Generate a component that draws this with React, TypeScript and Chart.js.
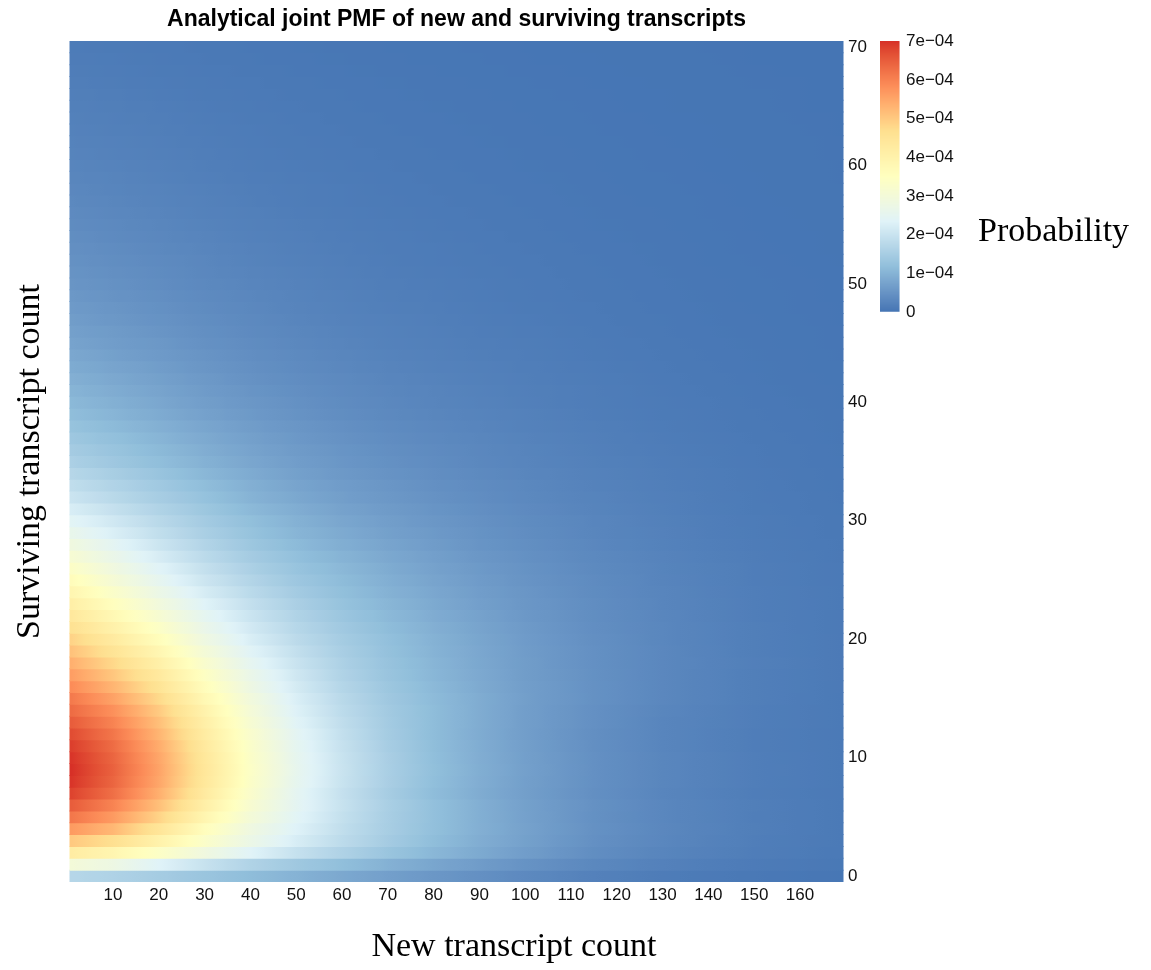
import React, { useEffect, useRef } from 'react';
import { Chart, registerables } from 'chart.js';

Chart.register(...registerables);

// ---------- data (probabilities in units of 1e-4) ----------
const newCounts = [1, 10, 20, 30, 40, 50, 60, 70, 80, 90, 100, 115, 130, 150, 169];

const survivingCounts = [
  0, 1, 2, 3, 4, 5, 6, 7, 8, 9, 10, 11, 12, 13, 14, 15, 16, 17, 18, 19, 20,
  21, 22, 23, 24, 25, 26, 27, 28, 29, 30, 31, 32, 33, 34, 35, 36, 37, 38, 39, 40,
  41, 42, 43, 44, 45, 46, 47, 48, 49, 50, 51, 52, 53, 54, 55, 56, 57, 58, 59, 60,
  61, 62, 63, 64, 65, 66, 67, 68, 69, 70,
];

// one row per surviving count, values aligned with newCounts
const pmfRows = [
  [1.70, 1.60, 1.46, 1.30, 1.14, 0.98, 0.82, 0.68, 0.55, 0.44, 0.33, 0.20, 0.12, 0.06, 0.03],
  [3.00, 2.76, 2.34, 1.95, 1.62, 1.38, 1.17, 0.96, 0.78, 0.63, 0.48, 0.31, 0.20, 0.105, 0.058],
  [4.20, 3.86, 3.36, 2.86, 2.35, 1.93, 1.60, 1.30, 1.05, 0.84, 0.65, 0.40, 0.26, 0.14, 0.075],
  [5.00, 4.65, 4.00, 3.30, 2.70, 2.20, 1.80, 1.45, 1.15, 0.90, 0.70, 0.44, 0.29, 0.15, 0.08],
  [5.65, 5.25, 4.46, 3.56, 2.83, 2.32, 1.86, 1.50, 1.19, 0.93, 0.72, 0.46, 0.30, 0.16, 0.085],
  [6.15, 5.66, 4.86, 3.87, 3.01, 2.40, 1.91, 1.51, 1.20, 0.92, 0.71, 0.45, 0.29, 0.155, 0.085],
  [6.50, 5.98, 5.14, 4.10, 3.15, 2.47, 1.95, 1.53, 1.20, 0.92, 0.70, 0.46, 0.29, 0.16, 0.085],
  [6.80, 6.26, 5.37, 4.28, 3.26, 2.48, 1.92, 1.48, 1.14, 0.88, 0.67, 0.43, 0.27, 0.14, 0.08],
  [6.95, 6.39, 5.49, 4.38, 3.34, 2.54, 1.97, 1.52, 1.17, 0.90, 0.68, 0.44, 0.28, 0.15, 0.083],
  [7.00, 6.44, 5.53, 4.41, 3.36, 2.56, 1.98, 1.53, 1.18, 0.91, 0.69, 0.44, 0.28, 0.15, 0.084],
  [6.95, 6.39, 5.49, 4.38, 3.34, 2.54, 1.97, 1.52, 1.17, 0.90, 0.68, 0.44, 0.28, 0.15, 0.083],
  [6.85, 6.30, 5.41, 4.32, 3.29, 2.50, 1.94, 1.49, 1.15, 0.89, 0.67, 0.43, 0.27, 0.14, 0.082],
  [6.70, 6.16, 5.29, 4.22, 3.22, 2.45, 1.90, 1.46, 1.13, 0.87, 0.66, 0.42, 0.27, 0.14, 0.08],
  [6.50, 5.98, 5.14, 4.10, 3.12, 2.37, 1.85, 1.44, 1.13, 0.88, 0.66, 0.44, 0.27, 0.15, 0.08],
  [6.30, 5.80, 4.98, 3.97, 3.02, 2.30, 1.80, 1.42, 1.13, 0.88, 0.66, 0.44, 0.28, 0.15, 0.08],
  [6.10, 5.55, 4.76, 3.78, 2.92, 2.24, 1.75, 1.38, 1.11, 0.88, 0.67, 0.46, 0.30, 0.16, 0.085],
  [5.85, 5.29, 4.53, 3.60, 2.78, 2.15, 1.68, 1.34, 1.08, 0.85, 0.66, 0.46, 0.30, 0.16, 0.088],
  [5.60, 5.04, 4.31, 3.42, 2.66, 2.07, 1.62, 1.29, 1.04, 0.83, 0.64, 0.45, 0.30, 0.16, 0.09],
  [5.35, 4.78, 4.07, 3.21, 2.51, 1.98, 1.57, 1.26, 1.02, 0.81, 0.64, 0.44, 0.30, 0.17, 0.09],
  [5.10, 4.52, 3.83, 3.01, 2.37, 1.89, 1.51, 1.22, 0.99, 0.80, 0.63, 0.44, 0.30, 0.16, 0.09],
  [4.85, 4.27, 3.59, 2.81, 2.23, 1.79, 1.46, 1.19, 0.97, 0.78, 0.62, 0.43, 0.29, 0.16, 0.09],
  [4.60, 4.02, 3.36, 2.65, 2.12, 1.71, 1.39, 1.14, 0.93, 0.75, 0.60, 0.41, 0.29, 0.16, 0.087],
  [4.35, 3.77, 3.13, 2.49, 2.00, 1.62, 1.32, 1.08, 0.88, 0.72, 0.57, 0.40, 0.28, 0.15, 0.087],
  [4.10, 3.53, 2.91, 2.34, 1.89, 1.54, 1.25, 1.03, 0.84, 0.68, 0.55, 0.39, 0.27, 0.15, 0.082],
  [3.85, 3.29, 2.71, 2.18, 1.77, 1.44, 1.18, 0.97, 0.80, 0.65, 0.53, 0.37, 0.26, 0.15, 0.08],
  [3.60, 3.06, 2.52, 2.03, 1.66, 1.35, 1.12, 0.92, 0.76, 0.62, 0.50, 0.36, 0.25, 0.14, 0.08],
  [3.35, 2.86, 2.36, 1.91, 1.55, 1.27, 1.06, 0.87, 0.72, 0.59, 0.48, 0.34, 0.24, 0.14, 0.077],
  [3.10, 2.66, 2.19, 1.78, 1.45, 1.19, 0.99, 0.82, 0.68, 0.55, 0.45, 0.32, 0.23, 0.13, 0.074],
  [2.85, 2.45, 2.02, 1.65, 1.34, 1.10, 0.91, 0.76, 0.63, 0.51, 0.42, 0.30, 0.21, 0.12, 0.068],
  [2.60, 2.25, 1.87, 1.53, 1.25, 1.02, 0.85, 0.70, 0.59, 0.48, 0.39, 0.28, 0.20, 0.11, 0.065],
  [2.40, 2.09, 1.75, 1.44, 1.18, 0.96, 0.79, 0.66, 0.55, 0.46, 0.37, 0.27, 0.19, 0.11, 0.062],
  [2.20, 1.92, 1.62, 1.34, 1.08, 0.89, 0.73, 0.61, 0.51, 0.42, 0.35, 0.25, 0.18, 0.10, 0.059],
  [2.00, 1.75, 1.49, 1.23, 0.99, 0.81, 0.67, 0.56, 0.47, 0.39, 0.32, 0.24, 0.17, 0.096, 0.054],
  [1.85, 1.63, 1.39, 1.15, 0.93, 0.76, 0.63, 0.53, 0.44, 0.37, 0.31, 0.22, 0.16, 0.093, 0.052],
  [1.70, 1.50, 1.28, 1.05, 0.86, 0.70, 0.58, 0.49, 0.41, 0.34, 0.28, 0.21, 0.15, 0.087, 0.049],
  [1.55, 1.36, 1.16, 0.96, 0.79, 0.65, 0.54, 0.45, 0.38, 0.31, 0.26, 0.19, 0.14, 0.079, 0.045],
  [1.45, 1.28, 1.09, 0.90, 0.74, 0.61, 0.51, 0.42, 0.36, 0.30, 0.25, 0.18, 0.13, 0.075, 0.044],
  [1.35, 1.19, 1.01, 0.84, 0.69, 0.57, 0.47, 0.39, 0.33, 0.28, 0.23, 0.17, 0.12, 0.070, 0.041],
  [1.25, 1.10, 0.94, 0.78, 0.64, 0.53, 0.44, 0.36, 0.31, 0.26, 0.21, 0.16, 0.11, 0.065, 0.038],
  [1.15, 1.01, 0.86, 0.71, 0.59, 0.48, 0.40, 0.33, 0.28, 0.24, 0.20, 0.14, 0.10, 0.060, 0.035],
  [1.07, 0.94, 0.80, 0.66, 0.55, 0.45, 0.37, 0.31, 0.26, 0.22, 0.18, 0.13, 0.096, 0.056, 0.032],
  [1.00, 0.88, 0.75, 0.62, 0.51, 0.42, 0.35, 0.29, 0.25, 0.21, 0.17, 0.13, 0.09, 0.052, 0.030],
  [0.93, 0.82, 0.70, 0.58, 0.47, 0.39, 0.33, 0.27, 0.23, 0.19, 0.16, 0.12, 0.084, 0.048, 0.028],
  [0.86, 0.76, 0.65, 0.53, 0.44, 0.36, 0.30, 0.25, 0.21, 0.18, 0.15, 0.11, 0.077, 0.045, 0.026],
  [0.80, 0.70, 0.60, 0.50, 0.41, 0.34, 0.28, 0.23, 0.20, 0.16, 0.14, 0.10, 0.072, 0.042, 0.024],
  [0.74, 0.65, 0.56, 0.46, 0.38, 0.31, 0.26, 0.21, 0.18, 0.15, 0.13, 0.093, 0.067, 0.038, 0.022],
  [0.69, 0.61, 0.52, 0.43, 0.35, 0.29, 0.24, 0.20, 0.17, 0.14, 0.12, 0.086, 0.062, 0.036, 0.021],
  [0.64, 0.56, 0.48, 0.40, 0.33, 0.27, 0.22, 0.19, 0.16, 0.13, 0.11, 0.080, 0.058, 0.033, 0.019],
  [0.60, 0.53, 0.45, 0.37, 0.31, 0.25, 0.21, 0.17, 0.15, 0.12, 0.10, 0.075, 0.054, 0.031, 0.018],
  [0.56, 0.49, 0.42, 0.35, 0.29, 0.24, 0.20, 0.16, 0.14, 0.11, 0.095, 0.070, 0.050, 0.029, 0.017],
  [0.52, 0.46, 0.39, 0.32, 0.27, 0.22, 0.18, 0.15, 0.13, 0.11, 0.088, 0.065, 0.047, 0.027, 0.016],
  [0.49, 0.43, 0.37, 0.30, 0.25, 0.21, 0.17, 0.14, 0.12, 0.10, 0.083, 0.061, 0.044, 0.025, 0.015],
  [0.46, 0.40, 0.35, 0.29, 0.23, 0.19, 0.16, 0.13, 0.11, 0.094, 0.078, 0.058, 0.041, 0.024, 0.014],
  [0.43, 0.38, 0.32, 0.27, 0.22, 0.18, 0.15, 0.12, 0.11, 0.088, 0.073, 0.054, 0.039, 0.022, 0.013],
  [0.40, 0.35, 0.30, 0.25, 0.20, 0.17, 0.14, 0.12, 0.098, 0.082, 0.068, 0.050, 0.036, 0.021, 0.012],
  [0.37, 0.33, 0.28, 0.23, 0.19, 0.16, 0.13, 0.11, 0.091, 0.076, 0.063, 0.046, 0.033, 0.019, 0.011],
  [0.345, 0.30, 0.26, 0.21, 0.18, 0.14, 0.12, 0.10, 0.085, 0.071, 0.059, 0.043, 0.031, 0.018, 0.010],
  [0.32, 0.28, 0.24, 0.20, 0.16, 0.13, 0.11, 0.093, 0.078, 0.066, 0.054, 0.040, 0.029, 0.017, 0.010],
  [0.30, 0.26, 0.23, 0.19, 0.15, 0.13, 0.11, 0.087, 0.074, 0.062, 0.051, 0.038, 0.027, 0.016, 0.009],
  [0.28, 0.25, 0.21, 0.17, 0.14, 0.12, 0.098, 0.081, 0.069, 0.057, 0.048, 0.035, 0.025, 0.015, 0.008],
  [0.26, 0.23, 0.20, 0.16, 0.13, 0.11, 0.091, 0.075, 0.064, 0.053, 0.044, 0.033, 0.023, 0.014, 0.008],
  [0.24, 0.21, 0.18, 0.15, 0.12, 0.10, 0.084, 0.070, 0.059, 0.049, 0.041, 0.030, 0.022, 0.012, 0.007],
  [0.225, 0.20, 0.17, 0.14, 0.11, 0.095, 0.079, 0.065, 0.055, 0.046, 0.038, 0.028, 0.020, 0.012, 0.007],
  [0.21, 0.18, 0.16, 0.13, 0.11, 0.088, 0.074, 0.061, 0.051, 0.043, 0.036, 0.026, 0.019, 0.011, 0.006],
  [0.195, 0.17, 0.15, 0.12, 0.10, 0.082, 0.068, 0.057, 0.048, 0.040, 0.033, 0.024, 0.018, 0.010, 0.006],
  [0.18, 0.16, 0.14, 0.11, 0.092, 0.076, 0.063, 0.052, 0.044, 0.037, 0.031, 0.023, 0.016, 0.009, 0.005],
  [0.165, 0.15, 0.12, 0.10, 0.084, 0.069, 0.058, 0.048, 0.040, 0.034, 0.028, 0.021, 0.015, 0.009, 0.005],
  [0.15, 0.13, 0.11, 0.093, 0.077, 0.063, 0.053, 0.044, 0.037, 0.031, 0.026, 0.019, 0.014, 0.008, 0.005],
  [0.135, 0.12, 0.10, 0.084, 0.069, 0.057, 0.047, 0.039, 0.033, 0.028, 0.023, 0.017, 0.012, 0.007, 0.004],
  [0.12, 0.11, 0.09, 0.074, 0.061, 0.050, 0.042, 0.035, 0.029, 0.025, 0.020, 0.015, 0.011, 0.006, 0.004],
  [0.11, 0.097, 0.083, 0.068, 0.056, 0.046, 0.039, 0.032, 0.027, 0.023, 0.019, 0.014, 0.010, 0.006, 0.003],
];

const xTickValues = [10, 20, 30, 40, 50, 60, 70, 80, 90, 100, 110, 120, 130, 140, 150, 160];
const yTickValues = [0, 10, 20, 30, 40, 50, 60, 70];
const legendTickValues = [0, 1, 2, 3, 4, 5, 6, 7];
const legendTickLabels = ['0', '1e\u221204', '2e\u221204', '3e\u221204', '4e\u221204', '5e\u221204', '6e\u221204', '7e\u221204'];
const legendMin = 0;
const legendMax = 7;

const TITLE = 'Analytical joint PMF of new and surviving transcripts';
const X_TITLE = 'New transcript count';
const Y_TITLE = 'Surviving transcript count';
const LEGEND_TITLE = 'Probability';

const palette = ['#4575B4', '#91BFDB', '#E0F3F8', '#FFFFBF', '#FEE090', '#FC8D59', '#D73027'];

// ---------- colour helpers (Lab interpolation like scales::gradient_n_pal) ----------
const W = 1151;
const H = 970;
const SANS = '"Liberation Sans", Arial, Helvetica, sans-serif';
const SERIF = '"Liberation Serif", "Times New Roman", serif';

function hexToRgb(h: string) {
  const n = parseInt(h.slice(1), 16);
  return [(n >> 16) & 255, (n >> 8) & 255, n & 255];
}
function toLin(c: number) {
  const v = c / 255;
  return v <= 0.04045 ? v / 12.92 : Math.pow((v + 0.055) / 1.055, 2.4);
}
function fromLin(c: number) {
  const v = c <= 0.0031308 ? 12.92 * c : 1.055 * Math.pow(c, 1 / 2.4) - 0.055;
  return Math.round(Math.min(1, Math.max(0, v)) * 255);
}
function rgbToLab(rgb: number[]) {
  const R = toLin(rgb[0]), G = toLin(rgb[1]), B = toLin(rgb[2]);
  const X = (0.4124 * R + 0.3576 * G + 0.1805 * B) / 0.95047;
  const Y = 0.2126 * R + 0.7152 * G + 0.0722 * B;
  const Z = (0.0193 * R + 0.1192 * G + 0.9505 * B) / 1.08883;
  const f = (t: number) => (t > 0.008856 ? Math.cbrt(t) : 7.787 * t + 16 / 116);
  const fx = f(X), fy = f(Y), fz = f(Z);
  return [116 * fy - 16, 500 * (fx - fy), 200 * (fy - fz)];
}
function labToRgb(lab: number[]) {
  const fy = (lab[0] + 16) / 116;
  const fx = fy + lab[1] / 500;
  const fz = fy - lab[2] / 200;
  const inv = (t: number) => (t * t * t > 0.008856 ? t * t * t : (t - 16 / 116) / 7.787);
  const X = inv(fx) * 0.95047, Y = inv(fy), Z = inv(fz) * 1.08883;
  const R = 3.2406 * X - 1.5372 * Y - 0.4986 * Z;
  const G = -0.9689 * X + 1.8758 * Y + 0.0415 * Z;
  const B = 0.0557 * X - 0.204 * Y + 1.057 * Z;
  return [fromLin(R), fromLin(G), fromLin(B)];
}
const paletteLab = palette.map((c) => rgbToLab(hexToRgb(c)));

function colorFor(v: number) {
  const t = Math.min(1, Math.max(0, (v - legendMin) / (legendMax - legendMin))) * (paletteLab.length - 1);
  const i = Math.min(paletteLab.length - 2, Math.floor(t));
  const f = t - i;
  const a = paletteLab[i], b = paletteLab[i + 1];
  const rgb = labToRgb([a[0] + (b[0] - a[0]) * f, a[1] + (b[1] - a[1]) * f, a[2] + (b[2] - a[2]) * f]);
  return `rgb(${rgb[0]},${rgb[1]},${rgb[2]})`;
}

const xMin = newCounts[0] - 0.5;
const xMax = newCounts[newCounts.length - 1] + 0.5;

function rowFill(chart: any, rowIndex: number) {
  const xs = chart.scales && chart.scales.x;
  const row = pmfRows[rowIndex];
  if (!xs || !row || !chart.chartArea) return colorFor(row ? row[0] : 0);
  const p0 = xs.getPixelForValue(xMin);
  const p1 = xs.getPixelForValue(xMax);
  const g = chart.ctx.createLinearGradient(p0, 0, p1, 0);
  const SUB = 6;
  for (let k = 0; k < newCounts.length; k++) {
    const off = (xs.getPixelForValue(newCounts[k]) - p0) / (p1 - p0);
    g.addColorStop(Math.min(1, Math.max(0, off)), colorFor(row[k]));
    if (k < newCounts.length - 1) {
      const offN = (xs.getPixelForValue(newCounts[k + 1]) - p0) / (p1 - p0);
      for (let s = 1; s < SUB; s++) {
        const f = s / SUB;
        g.addColorStop(off + (offN - off) * f, colorFor(row[k] + (row[k + 1] - row[k]) * f));
      }
    }
  }
  return g;
}

const decorPlugin = {
  id: 'decor',
  afterDraw(chart: any) {
    const ctx = chart.ctx;
    const area = chart.chartArea;
    ctx.save();
    ctx.fillStyle = '#000';

    // title
    ctx.font = `bold 23px ${SANS}`;
    ctx.textAlign = 'center';
    ctx.textBaseline = 'middle';
    ctx.fillText(TITLE, (area.left + area.right) / 2, 20);

    // axis titles
    ctx.font = `34px ${SERIF}`;
    ctx.fillText(X_TITLE, 514, 947);
    ctx.save();
    ctx.translate(30, (area.top + area.bottom) / 2);
    ctx.rotate(-Math.PI / 2);
    ctx.fillText(Y_TITLE, 0, 0);
    ctx.restore();

    // colour bar
    const barL = 880, barR = 899.5, barTop = 41, barBot = 311.5;
    const yFor = (v: number) => barBot - ((v - legendMin) / (legendMax - legendMin)) * (barBot - barTop);
    for (let py = barTop; py < barBot; py += 1) {
      const v = legendMin + ((barBot - (py + 0.5)) / (barBot - barTop)) * (legendMax - legendMin);
      ctx.fillStyle = colorFor(v);
      ctx.fillRect(barL, py, barR - barL, Math.min(1, barBot - py) + 0.2);
    }
    ctx.fillStyle = '#111';
    ctx.font = `17px ${SANS}`;
    ctx.textAlign = 'left';
    ctx.textBaseline = 'middle';
    legendTickValues.forEach((v, i) => ctx.fillText(legendTickLabels[i], 906, yFor(v) + 0.5));

    ctx.fillStyle = '#000';
    ctx.font = `34px ${SERIF}`;
    ctx.fillText(LEGEND_TITLE, 978, 232);
    ctx.restore();
  },
};

export default function App() {
  const ref = useRef<HTMLCanvasElement | null>(null);

  useEffect(() => {
    if (!ref.current) return;
    const chart = new Chart(ref.current, {
      type: 'bar',
      data: {
        labels: survivingCounts.map(String),
        datasets: [
          {
            data: survivingCounts.map(() => [xMin, xMax]) as any,
            backgroundColor: (c: any) => rowFill(c.chart, c.dataIndex),
            borderWidth: 0,
            barPercentage: 1,
            categoryPercentage: 1,
            inflateAmount: 0.5,
            clip: 0,
          } as any,
        ],
      },
      options: {
        indexAxis: 'y',
        animation: false,
        responsive: false,
        devicePixelRatio: 1,
        events: [],
        layout: { padding: { left: 69.5, top: 41, right: 0, bottom: 0 } },
        plugins: {
          legend: { display: false },
          title: { display: false },
          tooltip: { enabled: false },
        },
        scales: {
          x: {
            type: 'linear',
            min: xMin,
            max: xMax,
            grid: { display: false, drawTicks: false },
            border: { display: false },
            afterBuildTicks: (s: any) => {
              s.ticks = xTickValues.map((v) => ({ value: v }));
            },
            afterFit: (s: any) => {
              s.height = 88;
            },
            ticks: {
              padding: 3,
              autoSkip: false,
              maxRotation: 0,
              color: '#111',
              font: { family: SANS, size: 17 },
            },
          },
          y: {
            type: 'category',
            position: 'right',
            reverse: true,
            offset: true,
            grid: { display: false, drawTicks: false },
            border: { display: false },
            afterBuildTicks: (s: any) => {
              s.ticks = yTickValues.map((v) => ({ value: survivingCounts.indexOf(v) }));
            },
            afterFit: (s: any) => {
              s.width = W - 843.5;
            },
            ticks: {
              padding: 4.5,
              autoSkip: false,
              color: '#111',
              font: { family: SANS, size: 17 },
            },
          },
        },
      } as any,
      plugins: [decorPlugin],
    });
    return () => chart.destroy();
  }, []);

  return (
    <div style={{ position: 'fixed', left: 0, top: 0, width: W, height: H, background: '#fff' }}>
      <canvas ref={ref} width={W} height={H} style={{ display: 'block', width: W, height: H }} />
    </div>
  );
}
